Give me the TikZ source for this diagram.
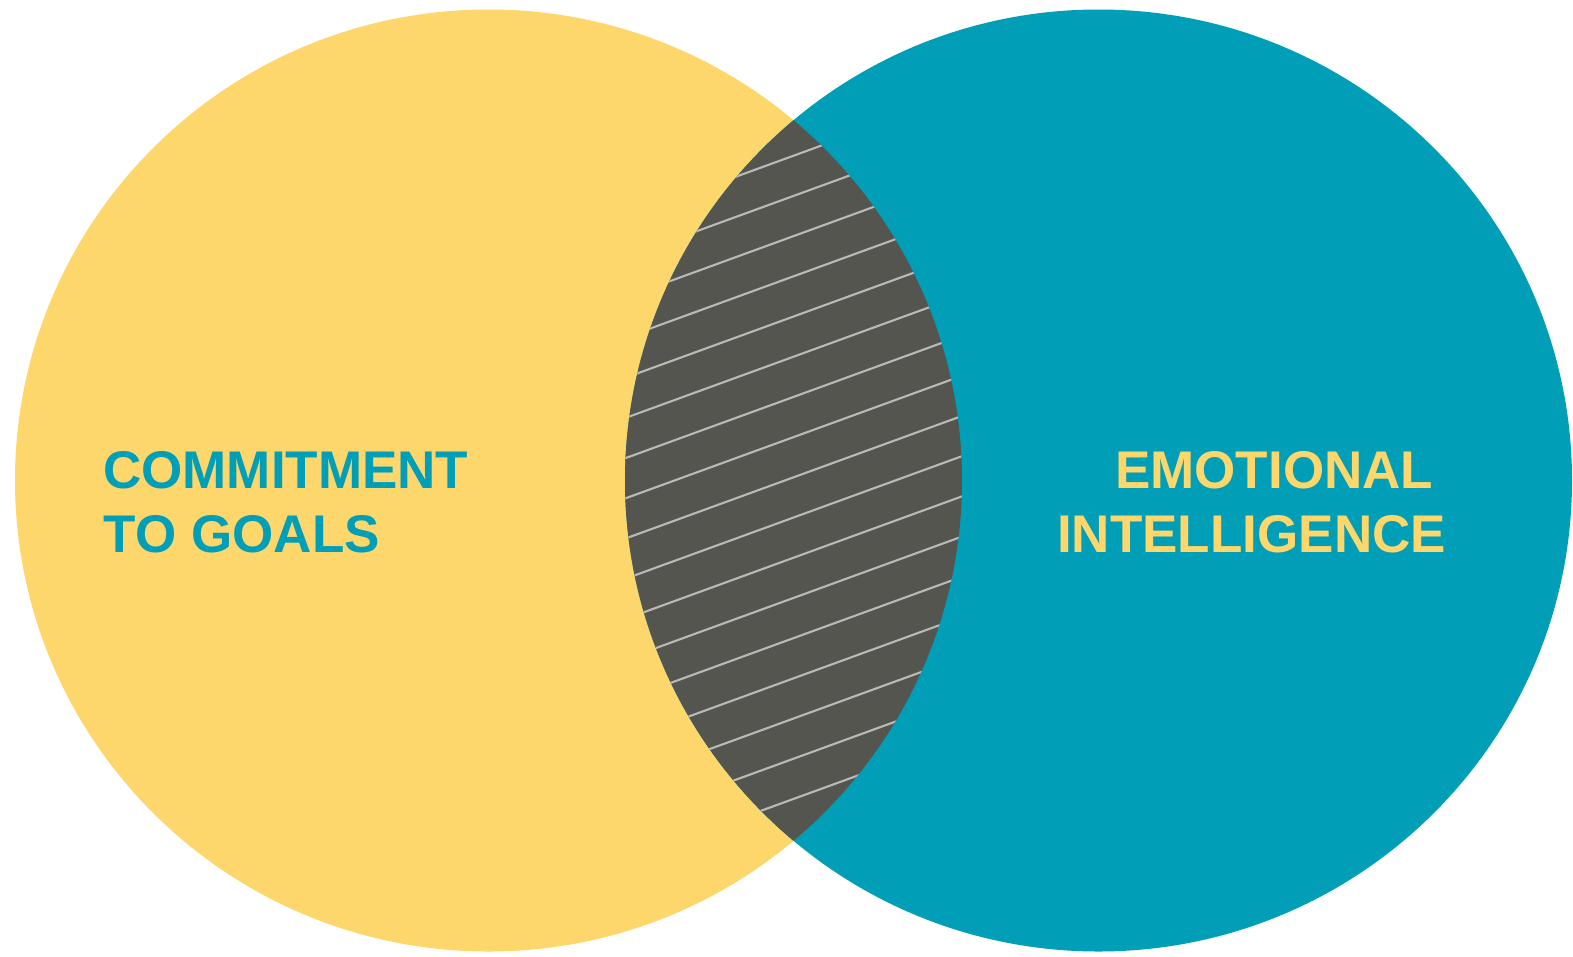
\documentclass[tikz,border=0pt]{standalone}
\usepackage{fontspec}
\setmainfont[Kerning=Off]{Liberation Sans}
\definecolor{cyell}{RGB}{253,215,107}
\definecolor{cteal}{RGB}{0,159,183}
\definecolor{cgray}{RGB}{85,85,80}
\definecolor{chatch}{RGB}{185,185,183}
\tikzset{
  lbl/.style={anchor=base west, inner sep=0pt, font=\fontsize{53}{64}\selectfont\bfseries},
  hatchline/.style={draw=chatch, line width=2.1pt}
}
\begin{document}
\begin{tikzpicture}[x=1pt,y=-1pt]
\useasboundingbox[fill=white] (0,0) rectangle (1573,956);
\fill[cyell] (488.5,480.5) ellipse [x radius=473.5, y radius=471];
\fill[cteal] (1098.5,480.5) ellipse [x radius=473.5, y radius=471];
\begin{scope}
  \clip (488.5,480.5) ellipse [x radius=473.5, y radius=471];
  \clip (1098.5,480.5) ellipse [x radius=473.5, y radius=471];
  \fill[cgray] (600,0) rectangle (1000,956);
  \foreach \k in {0,...,16}{
    \pgfmathsetmacro{\yy}{157+40.2*\k}
    \draw[hatchline] (600,\yy+69.2) -- (980,\yy-69.2);
  }
\end{scope}
\node[lbl, text=cteal] (c1) at (103,488) {COMMITMENT};
\node[lbl, text=cteal] (c2) at (103,552) {TO GOALS};
\node[lbl, text=cyell] (e1) at (1115,488) {EMOTIONAL};
\node[lbl, text=cyell] (e2) at (1057,552) {INTELLIGENCE};
\end{tikzpicture}
\end{document}
